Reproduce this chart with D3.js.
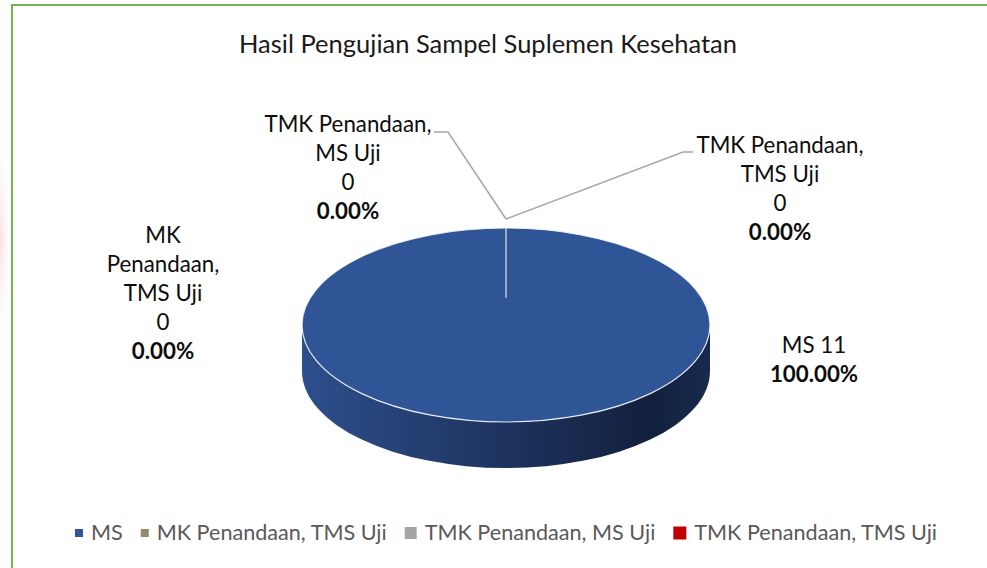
<!DOCTYPE html>
<html>
<head>
<meta charset="utf-8">
<script src="https://cdn.jsdelivr.net/npm/d3@7"></script>
<style>
  body { margin: 0; background: #fff; }
  svg { display: block; font-family: Lato, "Open Sans", sans-serif; }
</style>
</head>
<body>
<div id="chart"></div>
<script>
// data
const categories = ["MS", "MK Penandaan, TMS Uji", "TMK Penandaan, MS Uji", "TMK Penandaan, TMS Uji"];
const values = [11, 0, 0, 0];
const colors = ["#2F5597", "#948A6C", "#A5A5A5", "#C00000"];
// how each data label name is broken into lines
const labelNameLines = [["MS"], ["MK", "Penandaan,", "TMS Uji"], ["TMK Penandaan,", "MS Uji"], ["TMK Penandaan,", "TMS Uji"]];

const W = 987, H = 568;
const svg = d3.select("#chart").append("svg").attr("width", W).attr("height", H);

// faint page watermark at the left edge + green frame
const defs = svg.append("defs");
const wm = defs.append("radialGradient").attr("id", "wm");
wm.append("stop").attr("offset", "0%").attr("stop-color", "#f8dfe2");
wm.append("stop").attr("offset", "100%").attr("stop-color", "#fff").attr("stop-opacity", 0);
svg.append("ellipse").attr("cx", 0).attr("cy", 240).attr("rx", 12).attr("ry", 120).attr("fill", "url(#wm)");
svg.append("line").attr("x1", 12).attr("x2", 12).attr("y1", 4).attr("y2", H).attr("stroke", "#77b255").attr("stroke-width", 2);
svg.append("line").attr("x1", 11).attr("x2", W).attr("y1", 5).attr("y2", 5).attr("stroke", "#77b255").attr("stroke-width", 2);

// title
svg.append("text")
    .attr("x", 488).attr("y", 53)
    .attr("text-anchor", "middle")
    .attr("font-size", "25.5px")
    .attr("fill", "#1a1a1a")
    .text("Hasil Pengujian Sampel Suplemen Kesehatan");

// 3D pie geometry
const cx = 506, cy = 325, rx = 204, ry = 97, depth = 46;
const pie = d3.pie().sort(null).value(d => d)(values);
const pt = (a, dy = 0) => [cx + rx * Math.sin(a), cy - ry * Math.cos(a) + dy];

const sideGrad = defs.append("linearGradient").attr("id", "side").attr("x1", "0%").attr("x2", "100%");
[["0%", "#2d4f8c"], ["45%", "#1f3663"], ["85%", "#12203d"], ["100%", "#172a4d"]].forEach(s =>
    sideGrad.append("stop").attr("offset", s[0]).attr("stop-color", s[1]));

const gPie = svg.append("g");

// side walls (front half only)
pie.forEach((s, i) => {
    const a0 = Math.max(s.startAngle, Math.PI / 2), a1 = Math.min(s.endAngle, 3 * Math.PI / 2);
    if (a1 <= a0) return;
    const p0 = pt(a0), p1 = pt(a1), q1 = pt(a1, depth), q0 = pt(a0, depth);
    const large = (a1 - a0) > Math.PI ? 1 : 0;
    gPie.append("path")
        .attr("d", `M${p0}A${rx},${ry} 0 ${large} 1 ${p1}L${q1}A${rx},${ry} 0 ${large} 0 ${q0}Z`)
        .attr("fill", i === 0 ? "url(#side)" : d3.color(colors[i]).darker(1.2));
});

// top faces
pie.forEach((s, i) => {
    const span = s.endAngle - s.startAngle;
    if (span <= 0) return;
    if (span >= 2 * Math.PI - 1e-6) {
        gPie.append("ellipse").attr("cx", cx).attr("cy", cy).attr("rx", rx).attr("ry", ry)
            .attr("fill", colors[i]).attr("stroke", "#fff").attr("stroke-opacity", 0.85).attr("stroke-width", 1.2);
    } else {
        const large = span > Math.PI ? 1 : 0;
        gPie.append("path")
            .attr("d", `M${cx},${cy}L${pt(s.startAngle)}A${rx},${ry} 0 ${large} 1 ${pt(s.endAngle)}Z`)
            .attr("fill", colors[i]).attr("stroke", "#fff").attr("stroke-width", 1.2);
    }
});

// slice boundary where the zero slices sit
const hubY = cy - ry * 0.28;
gPie.append("line")
    .attr("x1", pt(pie[0].startAngle)[0]).attr("y1", pt(pie[0].startAngle)[1])
    .attr("x2", cx).attr("y2", hubY)
    .attr("stroke", "#d9d9d9").attr("stroke-width", 1.3);

// data labels
const total = d3.sum(values);
const fmtPct = v => (v / total * 100).toFixed(2) + "%";
const labelPos = [{ x: 814, y: 353 }, { x: 163, y: 243 }, { x: 348, y: 132 }, { x: 780, y: 153 }];
const lineH = 29;

categories.forEach((c, i) => {
    const lines = labelNameLines[i].slice();
    if (i === 0) lines[0] = lines[0] + " " + values[i];
    else lines.push(String(values[i]));
    lines.push(fmtPct(values[i]));
    const t = svg.append("text")
        .attr("text-anchor", "middle")
        .attr("font-size", "22.3px")
        .attr("fill", "#0d0d0d");
    lines.forEach((l, k) => {
        t.append("tspan")
            .attr("x", labelPos[i].x)
            .attr("y", labelPos[i].y + k * lineH)
            .attr("font-weight", k === lines.length - 1 ? "bold" : null)
            .text(l);
    });
});

// leader lines for the two labels sitting above the pie
const tip = pt(pie[2].startAngle, -9);
const leaders = [
    [tip, [448, 132], [434, 132]],
    [tip, [683, 152], [693, 152]]
];
leaders.forEach(p => {
    svg.append("path").attr("d", d3.line()(p))
        .attr("fill", "none").attr("stroke", "#a6a6a6").attr("stroke-width", 1.5);
});

// legend
const markerSize = [8, 8, 12, 13];
const gLeg = svg.append("g").attr("font-size", "21.6px").attr("fill", "#595959");
const items = categories.map((c, i) => {
    const g = gLeg.append("g");
    g.append("rect").attr("width", markerSize[i]).attr("height", markerSize[i])
        .attr("y", -markerSize[i] / 2 - 7).attr("fill", colors[i]);
    const t = g.append("text").attr("x", markerSize[i] + 8).attr("y", 0).text(c);
    return { g, w: markerSize[i] + 8 + t.node().getComputedTextLength() };
});
const gap = 18;
const legW = d3.sum(items, d => d.w) + gap * (items.length - 1);
let lx = cx - legW / 2;
items.forEach(it => {
    it.g.attr("transform", `translate(${lx},540)`);
    lx += it.w + gap;
});
</script>
</body>
</html>
